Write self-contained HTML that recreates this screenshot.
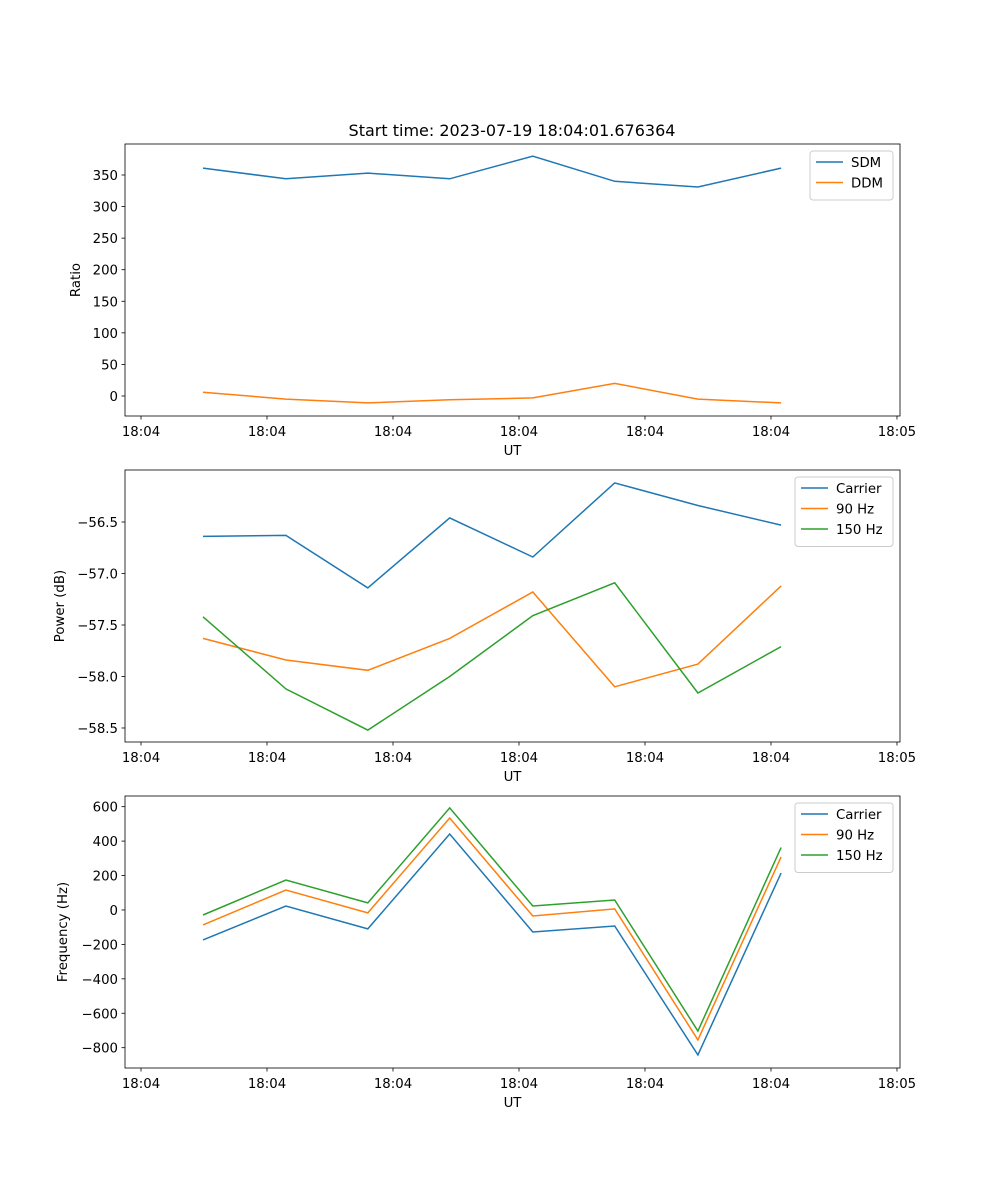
<!DOCTYPE html>
<html><head><meta charset="utf-8"><style>
body{margin:0;background:#fff}
svg{display:block;font-family:"DejaVu Sans","Liberation Sans",sans-serif}
</style></head><body>
<svg id="fig" width="1000" height="1200" viewBox="0 0 1000 1200" xmlns="http://www.w3.org/2000/svg">
<rect width="1000" height="1200" fill="#fff"/>
<text x="512" y="136" font-size="16" text-anchor="middle" fill="#000">Start time: 2023-07-19 18:04:01.676364</text>
</svg>
<script>
// time offsets in seconds from 18:04:00
const times=[4.92,11.5,18.0,24.5,31.1,37.6,44.2,50.8];
const xTicks=[0,10,20,30,40,50,60];
const xTickLabels=["18:04","18:04","18:04","18:04","18:04","18:04","18:05"];
const sdm=[361,344,353,344,380,340,331,361];
const ddm=[6,-5,-11,-6,-3,20,-5,-11];
const pwrCarrier=[-56.64,-56.63,-57.14,-56.46,-56.84,-56.12,-56.34,-56.53];
const pwr90=[-57.63,-57.84,-57.94,-57.63,-57.18,-58.10,-57.88,-57.12];
const pwr150=[-57.42,-58.12,-58.52,-58.00,-57.41,-57.09,-58.16,-57.71];
const frqCarrier=[-174,23,-110,441,-128,-93,-842,215];
const frq90=[-87,116,-17,534,-35,6,-755,308];
const frq150=[-29,174,41,593,23,58,-703,363];
const ticks1=[0,50,100,150,200,250,300,350];
const ticks2=[-58.5,-58.0,-57.5,-57.0,-56.5];
const ticks3=[-800,-600,-400,-200,0,200,400,600];

const NS="http://www.w3.org/2000/svg";
const svg=document.getElementById('fig');
function mk(tag,attrs,parent){const e=document.createElementNS(NS,tag);for(const k in attrs)e.setAttribute(k,attrs[k]);(parent||svg).appendChild(e);return e;}
const L=125,R=900,xmin=-1.27,xmax=60.24;
const sx=t=>L+(t-xmin)/(xmax-xmin)*(R-L);
const C=['#1f77b4','#ff7f0e','#2ca02c'];
const FS=13.3;

function panel(name,top,bottom,ymin,ymax,yticks,fmt,ylabel,series,labels,legendW){
  const g=mk('g',{});
  
  
  const sy=v=>bottom-(v-ymin)/(ymax-ymin)*(bottom-top);
  series.forEach((s,i)=>{
    const p=mk('polyline',{points:s.map((v,j)=>sx(times[j]).toFixed(1)+','+sy(v).toFixed(1)).join(' '),fill:'none',stroke:C[i],'stroke-width':1.5},g);
    
    
  });
  mk('rect',{x:L,y:top,width:R-L,height:bottom-top,fill:'none',stroke:'#000','stroke-width':0.8},g);
  xTicks.forEach((t,i)=>{
    const x=sx(t);
    mk('line',{x1:x,x2:x,y1:bottom,y2:bottom+3.5,stroke:'#000','stroke-width':0.8},g);
    const tx=mk('text',{x:x,y:bottom+20,'font-size':FS,'text-anchor':'middle'},g);tx.textContent=xTickLabels[i];
    
    
  });
  yticks.forEach(v=>{
    const y=sy(v);
    mk('line',{x1:L,x2:L-3.5,y1:y,y2:y,stroke:'#000','stroke-width':0.8},g);
    const tx=mk('text',{x:L-7,y:y+5,'font-size':FS,'text-anchor':'end'},g);tx.textContent=fmt(v);
    
    
  });
  const xl=mk('text',{x:(L+R)/2,y:bottom+39,'font-size':FS,'text-anchor':'middle'},g);xl.textContent='UT';
  
  
  const yx=ylabel.x, yy=(top+bottom)/2;
  const yl=mk('text',{x:yx,y:yy,'font-size':FS,'text-anchor':'middle',transform:'rotate(-90 '+yx+' '+yy+')'},g);yl.textContent=ylabel.t;
  
  
  const lg=mk('g',{},g);
  
  
  const lx=R-7-legendW, ly=top+7, lh=8+labels.length*20.5;
  mk('rect',{x:lx,y:ly,width:legendW,height:lh,rx:3,fill:'#fff','fill-opacity':0.8,stroke:'#ccc','stroke-width':1},lg);
  labels.forEach((lab,i)=>{
    const y=ly+11+i*20.5;
    mk('line',{x1:lx+6,x2:lx+33,y1:y,y2:y,stroke:C[i],'stroke-width':1.5},lg);
    const t=mk('text',{x:lx+41,y:y+5,'font-size':FS},lg);t.textContent=lab;
    
    
  });
}
panel('ratio',144,416,-31.7,399.1,ticks1,v=>String(v),{x:80,t:'Ratio'},[sdm,ddm],['SDM','DDM'],83);
panel('power',470,742,-58.636,-55.995,ticks2,v=>'\u2212'+Math.abs(v).toFixed(1),{x:64,t:'Power (dB)'},[pwrCarrier,pwr90,pwr150],['Carrier','90 Hz','150 Hz'],98);
panel('frequency',796,1068,-918,662,ticks3,v=>(v<0?'\u2212':'')+Math.abs(v),{x:67,t:'Frequency (Hz)'},[frqCarrier,frq90,frq150],['Carrier','90 Hz','150 Hz'],98);
</script>
</body></html>
